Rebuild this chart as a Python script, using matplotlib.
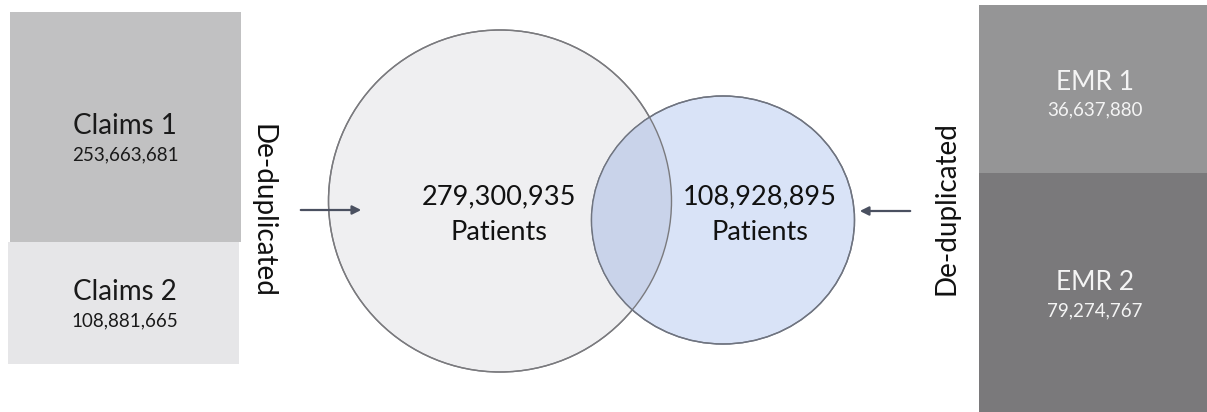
import matplotlib
matplotlib.use("Agg")
import matplotlib.pyplot as plt
from matplotlib.patches import Rectangle, Ellipse

# --- Data ---
claims_labels = ["Claims 1", "Claims 2"]
claims_counts = ["253,663,681", "108,881,665"]
emr_labels = ["EMR 1", "EMR 2"]
emr_counts = ["36,637,880", "79,274,767"]
merged_counts = ["279,300,935", "108,928,895"]
merged_unit = "Patients"
dedup_label = "De-duplicated"

FONT = ["Lato", "DejaVu Sans"]


def draw_boxes(ax):
    # left source boxes (claims)
    ax.add_patch(Rectangle((10, 12), 231, 230, facecolor="#c1c1c2", edgecolor="none"))
    ax.add_patch(Rectangle((8, 242), 231, 122, facecolor="#e6e6e8", edgecolor="none"))
    for lab, cnt, yc in zip(claims_labels, claims_counts, [126, 292]):
        ax.text(125, yc, lab, ha="center", va="center", fontsize=20, color="#1a1a1a", family=FONT)
        ax.text(125, yc + 29, cnt, ha="center", va="center", fontsize=13.5, color="#1a1a1a", family=FONT)

    # right source boxes (EMR)
    ax.add_patch(Rectangle((979, 5), 228, 168, facecolor="#959596", edgecolor="none"))
    ax.add_patch(Rectangle((979, 173), 228, 239, facecolor="#7a797b", edgecolor="none"))
    for lab, cnt, yc in zip(emr_labels, emr_counts, [82, 283]):
        ax.text(1095, yc, lab, ha="center", va="center", fontsize=19, color="#f4f4f4", family=FONT)
        ax.text(1095, yc + 28, cnt, ha="center", va="center", fontsize=13.5, color="#f4f4f4", family=FONT)


def draw_venn(ax):
    big = Ellipse((500, 201), 343, 342, facecolor="#efeff1", edgecolor="#7a7a7e", lw=1.0)
    small = Ellipse((723, 220), 263, 248, facecolor="#d9e3f7", edgecolor="#6f7480", lw=1.0)
    ax.add_patch(big)
    ax.add_patch(small)
    # overlap region: small circle clipped to big circle
    lens = Ellipse((723, 220), 263, 248, facecolor="#c9d3ea", edgecolor="none")
    ax.add_patch(lens)
    lens.set_clip_path(big)
    # redraw outlines on top
    ax.add_patch(Ellipse((500, 201), 343, 342, facecolor="none", edgecolor="#7a7a7e", lw=1.0))
    ax.add_patch(Ellipse((723, 220), 263, 248, facecolor="none", edgecolor="#6f7480", lw=1.0))

    for cnt, xc in zip(merged_counts, [499, 760]):
        ax.text(xc, 197, cnt, ha="center", va="center", fontsize=19.5, color="#111111", family=FONT)
        ax.text(xc, 232, merged_unit, ha="center", va="center", fontsize=19.5, color="#111111", family=FONT)


def draw_arrows(ax):
    arrow = dict(arrowstyle="-|>", color="#4a5060", lw=1.6, mutation_scale=13)
    ax.annotate("", xy=(364, 210), xytext=(298, 210), arrowprops=arrow)
    ax.annotate("", xy=(857, 211), xytext=(913, 211), arrowprops=arrow)
    ax.text(263, 211, dedup_label, rotation=-90, ha="center", va="center",
            fontsize=20, color="#111111", family=FONT)
    ax.text(947, 208, dedup_label, rotation=90, ha="center", va="center",
            fontsize=20, color="#111111", family=FONT)


def main():
    fig = plt.figure(figsize=(12.07, 4.12), dpi=100)
    ax = fig.add_axes([0, 0, 1, 1])
    ax.set_xlim(0, 1207)
    ax.set_ylim(412, 0)
    ax.axis("off")

    draw_boxes(ax)
    draw_venn(ax)
    draw_arrows(ax)

    fig.savefig("out.png", dpi=100, facecolor="white")
    plt.close(fig)


if __name__ == "__main__":
    main()
